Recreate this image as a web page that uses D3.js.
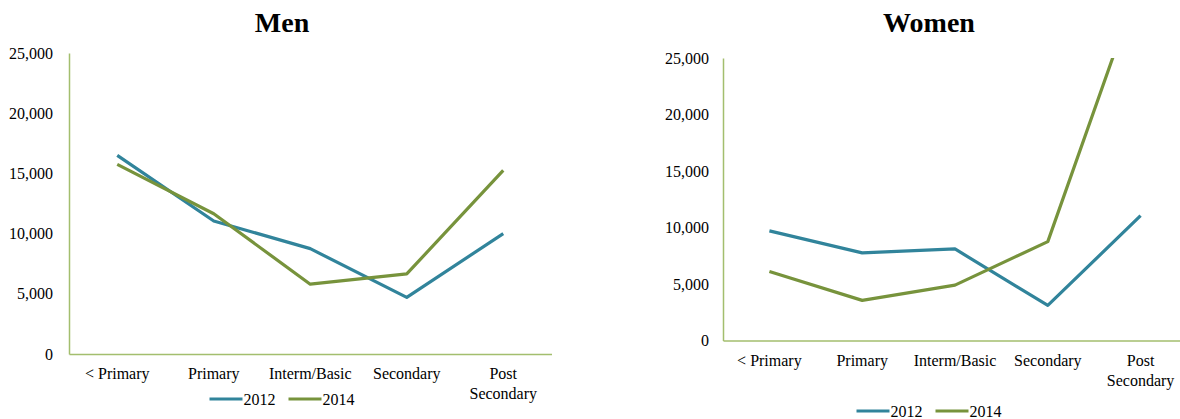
<!DOCTYPE html>
<html>
<head>
<meta charset="utf-8">
<script src="https://cdn.jsdelivr.net/npm/d3@7"></script>
<style>
  html, body { margin: 0; padding: 0; background: #fff; }
  svg, svg text { font-family: 'Liberation Serif', 'Times New Roman', serif; }
</style>
</head>
<body>
<svg id="chart" width="1180" height="419"></svg>
<script>
// ---- data ----
const categories = ["< Primary", "Primary", "Interm/Basic", "Secondary", "Post Secondary"];
const seriesNames = ["2012", "2014"];
const men2012 = [16500, 11050, 8750, 4700, 10000];
const men2014 = [15750, 11650, 5800, 6650, 15250];
const women2012 = [9700, 7750, 8100, 3100, 11050];
const women2014 = [6100, 3550, 4900, 8750, 32000];
const yTicks = [0, 5000, 10000, 15000, 20000, 25000];
const panelTitles = ["Men", "Women"];

// ---- styles ----
const FONT = "'Liberation Serif', 'Times New Roman', serif";
const colors = { "2012": "#31849B", "2014": "#77933C" };
const axisColor = "#A3BE6E";

const svg = d3.select("#chart");

const panels = [
  { title: panelTitles[0], data: [men2012, men2014],
    x0: 69, x1: 551.5, yTop: 53, yZero: 354, titleX: 282, titleY: 32,
    labelPad: 16, legendY: 399 },
  { title: panelTitles[1], data: [women2012, women2014],
    x0: 723, x1: 1187, yTop: 58, yZero: 340.5, titleX: 929, titleY: 32,
    labelPad: 14, legendY: 411 }
];

panels.forEach((p, pi) => {
  const g = svg.append("g");
  const x = d3.scaleBand().domain(categories).range([p.x0, p.x1]).padding(0);
  const y = d3.scaleLinear().domain([0, 25000]).range([p.yZero, p.yTop]);

  // title
  g.append("text")
    .attr("x", p.titleX).attr("y", p.titleY)
    .attr("text-anchor", "middle")
    .style("font-family", FONT)
    .style("font-weight", "bold")
    .style("font-size", "28px")
    .attr("fill", "#000")
    .text(p.title);

  // y axis
  const yAxis = g.append("g")
    .attr("transform", `translate(${p.x0},0)`)
    .call(d3.axisLeft(y).tickValues(yTicks).tickSize(0).tickSizeOuter(0)
      .tickPadding(p.labelPad).tickFormat(d3.format(",")));
  yAxis.attr("font-family", null).attr("font-size", null);
  yAxis.select(".domain").attr("stroke", axisColor).attr("stroke-width", 1.5);
  yAxis.selectAll("text").attr("fill", "#000")
    .style("font-size", "16px").style("font-family", FONT);

  // x axis
  const xAxis = g.append("g")
    .attr("transform", `translate(0,${p.yZero})`)
    .call(d3.axisBottom(x).tickSize(0).tickSizeOuter(0));
  xAxis.attr("font-family", null).attr("font-size", null);
  xAxis.select(".domain").attr("stroke", axisColor).attr("stroke-width", 1.5);
  xAxis.selectAll("text")
    .attr("fill", "#000")
    .style("font-size", "16px").style("font-family", FONT)
    .attr("y", 25).attr("dy", 0)
    .each(function(d) {
      const t = d3.select(this);
      t.text(null);
      const words = d === "Post Secondary" ? ["Post", "Secondary"] : [d];
      words.forEach((w, i) => {
        t.append("tspan").attr("x", 0).attr("dy", i === 0 ? 0 : 20).text(w);
      });
    });

  // clip
  const clipId = "clip" + pi;
  svg.append("clipPath").attr("id", clipId)
    .append("rect")
    .attr("x", p.x0).attr("y", p.yTop)
    .attr("width", p.x1 - p.x0).attr("height", p.yZero - p.yTop);

  const line = d3.line()
    .x((d, i) => x(categories[i]) + x.bandwidth() / 2)
    .y(d => y(d));

  p.data.forEach((vals, si) => {
    g.append("path")
      .datum(vals)
      .attr("clip-path", `url(#${clipId})`)
      .attr("fill", "none")
      .attr("stroke", colors[seriesNames[si]])
      .attr("stroke-width", 3.2)
      .attr("stroke-linejoin", "round")
      .attr("d", line);
  });

  // legend
  const leg = g.append("g");
  let cx = 0;
  seriesNames.forEach((s, si) => {
    const item = leg.append("g").attr("transform", `translate(${cx},0)`);
    item.append("line").attr("x1", 0).attr("x2", 33).attr("y1", 0).attr("y2", 0)
      .attr("stroke", colors[s]).attr("stroke-width", 3.2);
    const t = item.append("text").attr("x", 34).attr("y", 5.5)
      .style("font-size", "16px").style("font-family", FONT)
      .attr("fill", "#000").text(s);
    const w = t.node().getComputedTextLength();
    cx += 34 + w + (si < seriesNames.length - 1 ? 13 : 0);
  });
  leg.attr("transform", `translate(${p.titleX - cx / 2},${p.legendY})`);
});
</script>
</body>
</html>
